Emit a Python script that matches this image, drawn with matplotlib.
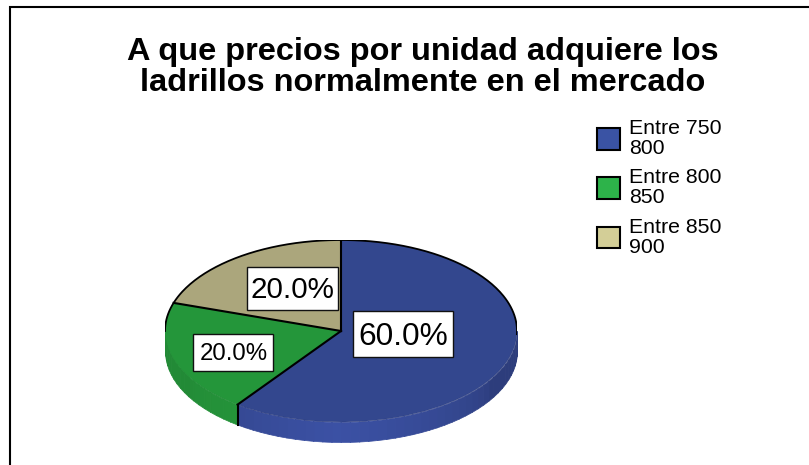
# -*- coding: utf-8 -*-
import numpy as np
import matplotlib
matplotlib.use("Agg")
import matplotlib.pyplot as plt
from matplotlib.colors import to_rgb
from matplotlib.patches import Patch, Rectangle

# === datos ===
TITLE = "A que precios por unidad adquiere los\nladrillos normalmente en el mercado"
categories = ["Entre 750\n800", "Entre 800\n850", "Entre 850\n900"]
shares = [60.0, 20.0, 20.0]
pct_labels = ["60.0%", "20.0%", "20.0%"]

# === estilo ===
W, H = 809, 465
top_colors = ["#33478e", "#24963a", "#aba67c"]
legend_colors = ["#3a53a4", "#2db34a", "#d3ce97"]
wall_dark = ["#2d3d7c", "#228a36", "#8f8b67"]
wall_light = ["#3b51a4", "#26993c", "#aba67c"]
DEPTH_PX = 20

plt.rcParams["font.family"] = ["Liberation Sans", "DejaVu Sans"]

fig = plt.figure(figsize=(W / 100, H / 100), dpi=100, facecolor="white")

# capa en pixeles para marco y textos
bg = fig.add_axes([0, 0, 1, 1])
bg.set_xlim(0, W)
bg.set_ylim(H, 0)
bg.axis("off")
bg.plot([10, 10, W], [H, 7, 7], color="black", lw=1.5, solid_joinstyle="miter")
bg.text(422.5, 67.5, TITLE, ha="center", va="center", fontsize=23.4, fontweight="bold",
        linespacing=1.08, color="black")

# === pastel ===
left, right, top, ry = 165, 517, 240, 91
bottom = top + 2 * ry + DEPTH_PX
ax = fig.add_axes([left / W, 1 - bottom / H, (right - left) / W, (bottom - top) / H])
ax.pie(shares, colors=top_colors, startangle=90, counterclock=False, radius=1,
       wedgeprops=dict(linewidth=0))
d = DEPTH_PX / ry
ax.set_aspect("auto")
ax.set_xlim(-1, 1)
ax.set_ylim(-1 - d, 1)

edges = np.cumsum([0.0] + shares) * 3.6


def rim(deg):
    rad = np.radians(deg)
    return np.sin(rad), np.cos(rad)


# pared lateral, solo la parte visible (90 a 270 grados)
for i in range(len(shares)):
    a0, a1 = max(edges[i], 90.0), min(edges[i + 1], 270.0)
    if a1 <= a0:
        continue
    steps = np.arange(a0, a1, 3.0)
    for s in steps:
        seg = np.linspace(s, min(s + 3.2, a1), 5)
        x, y = rim(seg)
        # mas oscuro hacia los costados
        k = np.clip(1 - abs(s - 180) / 60, 0, 1) ** 0.6
        c = (1 - k) * np.array(to_rgb(wall_dark[i])) + k * np.array(to_rgb(wall_light[i]))
        ax.fill_between(x, y, y - d, color=c, lw=0.5, zorder=0.5)
    seg = np.linspace(a0, a1, 60)
    x, y = rim(seg)
    ax.plot(x, y, color=wall_dark[i], lw=0.4, zorder=2)

# borde superior y radios
x, y = rim(np.linspace(270, 452, 200))
ax.plot(x, y, color="black", lw=1.3, zorder=3)
for deg in edges[:-1]:
    x, y = rim(deg)
    ax.plot([0, x], [0, y], color="black", lw=1.5, zorder=3)
x, y = rim(edges[1])
ax.plot([x, x], [y, y - d], color="black", lw=1.5, zorder=3)

# === etiquetas de porcentaje ===
top_layer = fig.add_axes([0, 0, 1, 1], facecolor="none")
top_layer.set_xlim(0, W)
top_layer.set_ylim(H, 0)
top_layer.axis("off")
label_box = [(353, 311, 100, 46), (193.5, 334, 80, 37), (247, 267, 91, 42.5)]
label_size = [22.8, 17.3, 21.3]
for txt, (bx, by, bw, bh), fs in zip(pct_labels, label_box, label_size):
    top_layer.add_patch(Rectangle((bx, by), bw, bh, fc="white", ec="#111111", lw=1.0))
    top_layer.text(bx + bw / 2, by + bh / 2 - 1, txt, ha="center", va="center_baseline", fontsize=fs,
                   color="black")

# === leyenda ===
handles = [Patch(facecolor=c, edgecolor="black", linewidth=1.5) for c in legend_colors]
leg = top_layer.legend(handles, categories, loc="upper left", bbox_to_anchor=(597, 119),
                       bbox_transform=top_layer.transData, frameon=False, fontsize=15.3,
                       borderpad=0, borderaxespad=0, handlelength=1.1, handleheight=1.2,
                       handletextpad=0.4, labelspacing=0.5)
for t in leg.get_texts():
    t.set_linespacing(1.05)

fig.savefig("out.png", dpi=100, facecolor="white")
